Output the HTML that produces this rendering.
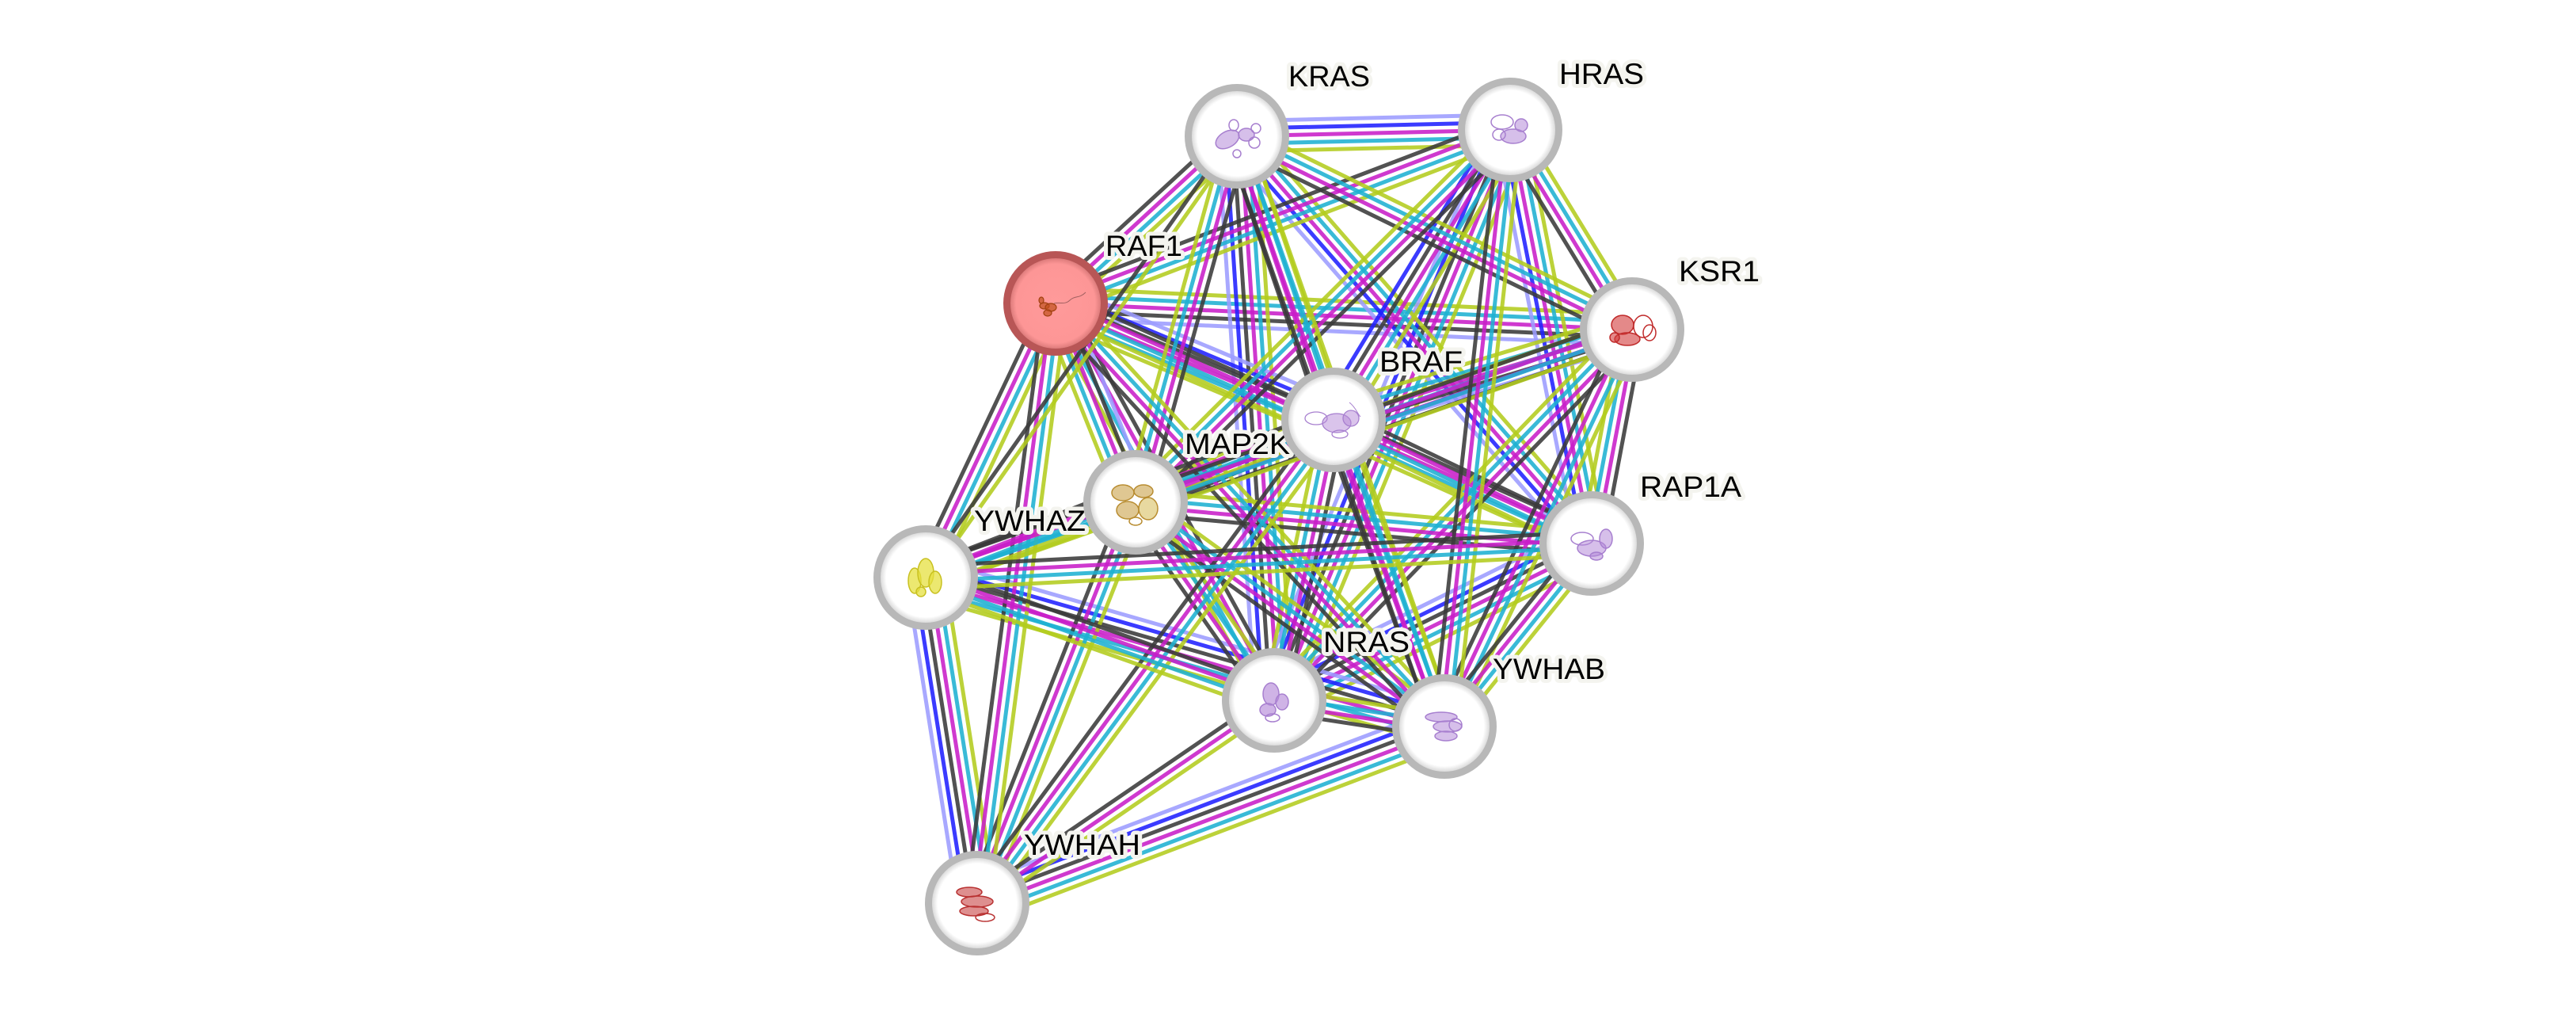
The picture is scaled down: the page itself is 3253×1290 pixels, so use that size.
<!DOCTYPE html>
<html>
<head>
<meta charset="utf-8">
<style>
  html,body{margin:0;padding:0;background:#ffffff;}
  #wrap{position:relative;width:3253px;height:1290px;overflow:hidden;background:#fff;}
  #edges,#top{position:absolute;left:0;top:0;width:3253px;height:1290px;}
  .lbl{font-family:"Liberation Sans",Arial,sans-serif;font-size:37px;fill:#000;stroke:#f4f4ef;stroke-width:10px;stroke-linejoin:round;paint-order:stroke;}
</style>
</head>
<body>
<div id="wrap">
<div id="edges"></div>
<svg id="top" width="3253" height="1290" viewBox="0 0 3253 1290">
  <defs>
    <radialGradient id="gw" cx="50%" cy="50%" r="50%">
      <stop offset="0" stop-color="#ffffff"/>
      <stop offset="0.86" stop-color="#ffffff"/>
      <stop offset="1" stop-color="#d6d6d6"/>
    </radialGradient>
    <radialGradient id="gr" cx="50%" cy="50%" r="50%">
      <stop offset="0" stop-color="#ff9a9a"/>
      <stop offset="0.86" stop-color="#fd9696"/>
      <stop offset="1" stop-color="#d97878"/>
    </radialGradient>
  </defs>

  <!-- labels -->
  <text class="lbl" x="1627" y="109" textLength="103" lengthAdjust="spacingAndGlyphs">KRAS</text>
  <text class="lbl" x="1969" y="106" textLength="107" lengthAdjust="spacingAndGlyphs">HRAS</text>
  <text class="lbl" x="1396" y="323" textLength="97" lengthAdjust="spacingAndGlyphs">RAF1</text>
  <text class="lbl" x="2120" y="355" textLength="102" lengthAdjust="spacingAndGlyphs">KSR1</text>
  <text class="lbl" x="1742" y="469" textLength="105" lengthAdjust="spacingAndGlyphs">BRAF</text>
  <text class="lbl" x="1496" y="573" textLength="133" lengthAdjust="spacingAndGlyphs">MAP2K</text>
  <text class="lbl" x="2071" y="627" textLength="128" lengthAdjust="spacingAndGlyphs">RAP1A</text>
  <text class="lbl" x="1230" y="670" textLength="141" lengthAdjust="spacingAndGlyphs">YWHAZ</text>
  <text class="lbl" x="1671" y="823" textLength="109" lengthAdjust="spacingAndGlyphs">NRAS</text>
  <text class="lbl" x="1885" y="857" textLength="142" lengthAdjust="spacingAndGlyphs">YWHAB</text>
  <text class="lbl" x="1293" y="1079" textLength="147" lengthAdjust="spacingAndGlyphs">YWHAH</text>

  <!-- nodes -->
  <g transform="translate(1562,172)">
    <circle r="58" fill="url(#gw)"/>
    <circle r="61.5" fill="none" stroke="#b8b8b8" stroke-width="9"/>
    <g fill="#b58ad8" fill-opacity="0.55" stroke="#a77fcf" stroke-width="1.5">
      <ellipse cx="-12" cy="4" rx="16" ry="10" transform="rotate(-30 -12 4)"/>
      <ellipse cx="12" cy="-2" rx="10" ry="8"/>
      <ellipse cx="-4" cy="-14" rx="6" ry="7" fill="none"/>
      <ellipse cx="22" cy="8" rx="7" ry="7" fill="none"/>
      <ellipse cx="0" cy="22" rx="5" ry="5" fill="none"/>
      <ellipse cx="24" cy="-10" rx="6" ry="6" fill="none"/>
    </g>
  </g>
  <g transform="translate(1907,164)">
    <circle r="58" fill="url(#gw)"/>
    <circle r="61.5" fill="none" stroke="#b8b8b8" stroke-width="9"/>
    <g fill="#b58ad8" fill-opacity="0.55" stroke="#a77fcf" stroke-width="1.5">
      <ellipse cx="-10" cy="-10" rx="14" ry="9" fill="none"/>
      <ellipse cx="4" cy="8" rx="16" ry="9"/>
      <ellipse cx="14" cy="-6" rx="8" ry="8"/>
      <ellipse cx="-14" cy="6" rx="8" ry="7" fill="none"/>
    </g>
  </g>
  <g transform="translate(1333,383)">
    <circle r="58" fill="url(#gr)"/>
    <circle r="61.5" fill="none" stroke="#b85656" stroke-width="9"/>
    <g fill="#c0501c" fill-opacity="0.7" stroke="#a0400f" stroke-width="1.2">
      <ellipse cx="-14" cy="3" rx="6" ry="4"/>
      <ellipse cx="-6" cy="5" rx="7" ry="5"/>
      <ellipse cx="-10" cy="12" rx="5" ry="4"/>
      <ellipse cx="-18" cy="-4" rx="3" ry="4"/>
    </g>
    <path d="M-2,0 C5,-2 12,2 18,-4 S30,-6 38,-14" fill="none" stroke="#a06060" stroke-width="1"/>
  </g>
  <g transform="translate(2061,416)">
    <circle r="58" fill="url(#gw)"/>
    <circle r="61.5" fill="none" stroke="#b8b8b8" stroke-width="9"/>
    <g fill="#d23a3a" fill-opacity="0.6" stroke="#c02a2a" stroke-width="1.5">
      <ellipse cx="-12" cy="-6" rx="14" ry="12"/>
      <ellipse cx="-6" cy="12" rx="16" ry="8"/>
      <ellipse cx="14" cy="-4" rx="12" ry="14" fill="none"/>
      <ellipse cx="22" cy="4" rx="8" ry="10" fill="none"/>
      <ellipse cx="-22" cy="10" rx="6" ry="6"/>
    </g>
  </g>
  <g transform="translate(1684,530)">
    <circle r="58" fill="url(#gw)"/>
    <circle r="61.5" fill="none" stroke="#b8b8b8" stroke-width="9"/>
    <g fill="#b58ad8" fill-opacity="0.5" stroke="#a77fcf" stroke-width="1.3">
      <ellipse cx="-22" cy="-2" rx="14" ry="8" fill="none"/>
      <ellipse cx="4" cy="4" rx="18" ry="12"/>
      <ellipse cx="22" cy="-2" rx="10" ry="10"/>
      <ellipse cx="8" cy="18" rx="10" ry="5" fill="none"/>
    </g>
    <path d="M20,-22 C28,-16 30,-8 34,-4" fill="none" stroke="#a77fcf" stroke-width="1"/>
  </g>
  <g transform="translate(1434,634)">
    <circle r="58" fill="url(#gw)"/>
    <circle r="61.5" fill="none" stroke="#b8b8b8" stroke-width="9"/>
    <g fill="#c9a24a" fill-opacity="0.6" stroke="#b88c30" stroke-width="1.5">
      <ellipse cx="-16" cy="-12" rx="14" ry="10"/>
      <ellipse cx="10" cy="-14" rx="12" ry="8"/>
      <ellipse cx="-10" cy="10" rx="14" ry="11"/>
      <ellipse cx="16" cy="8" rx="12" ry="14" fill="#d8c060"/>
      <ellipse cx="0" cy="24" rx="8" ry="5" fill="none"/>
    </g>
  </g>
  <g transform="translate(2010,686)">
    <circle r="58" fill="url(#gw)"/>
    <circle r="61.5" fill="none" stroke="#b8b8b8" stroke-width="9"/>
    <g fill="#b58ad8" fill-opacity="0.55" stroke="#a77fcf" stroke-width="1.5">
      <ellipse cx="-12" cy="-6" rx="14" ry="8" fill="none"/>
      <ellipse cx="0" cy="6" rx="18" ry="10"/>
      <ellipse cx="18" cy="-6" rx="8" ry="12"/>
      <ellipse cx="6" cy="16" rx="8" ry="5"/>
    </g>
  </g>
  <g transform="translate(1169,729)">
    <circle r="58" fill="url(#gw)"/>
    <circle r="61.5" fill="none" stroke="#b8b8b8" stroke-width="9"/>
    <g fill="#e6e040" fill-opacity="0.75" stroke="#c8c020" stroke-width="1.5">
      <ellipse cx="-14" cy="4" rx="8" ry="16"/>
      <ellipse cx="0" cy="-6" rx="10" ry="18"/>
      <ellipse cx="12" cy="6" rx="8" ry="14"/>
      <ellipse cx="-6" cy="18" rx="6" ry="6"/>
    </g>
  </g>
  <g transform="translate(1609,884)">
    <circle r="58" fill="url(#gw)"/>
    <circle r="61.5" fill="none" stroke="#b8b8b8" stroke-width="9"/>
    <g fill="#b58ad8" fill-opacity="0.65" stroke="#a77fcf" stroke-width="1.5">
      <ellipse cx="-4" cy="-8" rx="10" ry="14"/>
      <ellipse cx="10" cy="2" rx="8" ry="10"/>
      <ellipse cx="-8" cy="12" rx="10" ry="8"/>
      <ellipse cx="-2" cy="22" rx="9" ry="5" fill="none"/>
    </g>
  </g>
  <g transform="translate(1824,917)">
    <circle r="58" fill="url(#gw)"/>
    <circle r="61.5" fill="none" stroke="#b8b8b8" stroke-width="9"/>
    <g fill="#b58ad8" fill-opacity="0.55" stroke="#a77fcf" stroke-width="1.5">
      <ellipse cx="-4" cy="-12" rx="20" ry="6"/>
      <ellipse cx="4" cy="0" rx="18" ry="7"/>
      <ellipse cx="2" cy="12" rx="14" ry="6"/>
      <ellipse cx="14" cy="-2" rx="8" ry="8" fill="none"/>
    </g>
  </g>
  <g transform="translate(1234,1140)">
    <circle r="58" fill="url(#gw)"/>
    <circle r="61.5" fill="none" stroke="#b8b8b8" stroke-width="9"/>
    <g fill="#c84444" fill-opacity="0.6" stroke="#b83030" stroke-width="1.5">
      <ellipse cx="-10" cy="-14" rx="16" ry="6"/>
      <ellipse cx="0" cy="-2" rx="20" ry="7"/>
      <ellipse cx="-4" cy="10" rx="18" ry="6"/>
      <ellipse cx="10" cy="18" rx="12" ry="5" fill="none"/>
    </g>
  </g>
</svg>
</div>
<script>
(function(){
  var N={KRAS:[1562,172],HRAS:[1907,164],RAF1:[1333,383],KSR1:[2061,416],BRAF:[1684,530],MAP2K:[1434,634],RAP1A:[2010,686],YWHAZ:[1169,729],NRAS:[1609,884],YWHAB:[1824,917],YWHAH:[1234,1140]};
  var COL={Y:'#b3cc1e',C:'#1eb0d2',M:'#c81ec8',K:'#3a3a3a',B:'#2020ff',L:'#9c9cff'};
  var ORDER='YCMKBL';
  var E=[
    ['HRAS','KRAS','YCMBL'],
    ['RAF1','KSR1','YCMKL'],
    ['YWHAZ','YWHAH','YCMKBL'],
    ['YWHAB','YWHAH','YCMKBL'],
    ['RAP1A','NRAS','YCMKBL'],
    ['YWHAB','YWHAZ','YCMKBL'],
    ['KRAS','NRAS','YCMKBL'],
    ['HRAS','NRAS','YCMKBL'],
    ['KRAS','RAP1A','YCMBL'],
    ['HRAS','RAP1A','YCMBL'],
    ['BRAF','RAF1','YCMKBL'],
    ['BRAF','KSR1','YCMKL'],
    ['KRAS','RAF1','YCMK'],
    ['HRAS','RAF1','YCMK'],
    ['NRAS','RAF1','YCMK'],
    ['RAP1A','RAF1','YCMK'],
    ['KRAS','BRAF','YCMK'],
    ['HRAS','BRAF','YCMKB'],
    ['NRAS','BRAF','YCMK'],
    ['RAP1A','BRAF','YCMK'],
    ['KRAS','KSR1','YCMK'],
    ['HRAS','KSR1','YCMK'],
    ['NRAS','KSR1','YCMK'],
    ['RAP1A','KSR1','YCMK'],
    ['MAP2K','RAF1','YCMKL'],
    ['MAP2K','BRAF','YCMK'],
    ['MAP2K','KSR1','YCMK'],
    ['MAP2K','KRAS','YCMK'],
    ['MAP2K','HRAS','YCMK'],
    ['MAP2K','NRAS','YCMK'],
    ['MAP2K','RAP1A','YCMK'],
    ['MAP2K','YWHAZ','YCMK'],
    ['MAP2K','YWHAB','YCMK'],
    ['MAP2K','YWHAH','YCMK'],
    ['RAF1','YWHAZ','YCMK'],
    ['RAF1','YWHAB','YCMK'],
    ['RAF1','YWHAH','YCMK'],
    ['BRAF','YWHAZ','YCMK'],
    ['BRAF','YWHAB','YCMK'],
    ['BRAF','YWHAH','YCMK'],
    ['KSR1','YWHAZ','YCMK'],
    ['KSR1','YWHAB','YCMK'],
    ['NRAS','YWHAH','YMK'],
    ['NRAS','YWHAB','YCMK'],
    ['NRAS','YWHAZ','YCMK'],
    ['KRAS','YWHAZ','YK'],
    ['KRAS','YWHAB','YCMK'],
    ['HRAS','YWHAB','YCMK'],
    ['RAP1A','YWHAZ','YCMK'],
    ['RAP1A','YWHAB','YCMK']
  ];
  var S=9.6, out='';
  for(var e=0;e<E.length;e++){
    var a=N[E[e][0]], b=N[E[e][1]], ch=E[e][2];
    var dx=b[0]-a[0], dy=b[1]-a[1], len=Math.sqrt(dx*dx+dy*dy);
    var nx=-dy/len, ny=dx/len;
    var chans=[];
    for(var k=0;k<ORDER.length;k++){ if(ch.indexOf(ORDER[k])>=0) chans.push(ORDER[k]); }
    var n=chans.length;
    for(var i=0;i<n;i++){
      var o=(i-(n-1)/2)*S;
      out+='<line x1="'+(a[0]+nx*o).toFixed(1)+'" y1="'+(a[1]+ny*o).toFixed(1)+'" x2="'+(b[0]+nx*o).toFixed(1)+'" y2="'+(b[1]+ny*o).toFixed(1)+'" stroke="'+COL[chans[i]]+'"/>';
    }
  }
  document.getElementById('edges').innerHTML='<svg width="3253" height="1290" viewBox="0 0 3253 1290"><g stroke-width="5" stroke-opacity="0.88" fill="none">'+out+'</g></svg>';
})();
</script>
</body>
</html>
